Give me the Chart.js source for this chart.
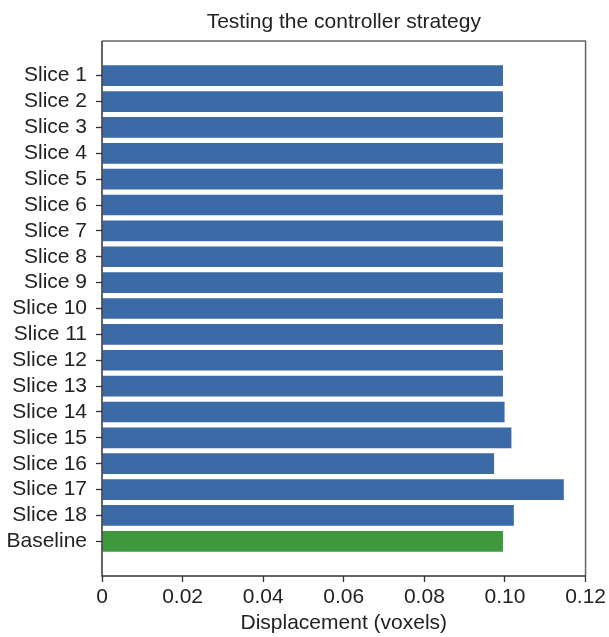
<!DOCTYPE html>
<html>
<head>
<meta charset="utf-8">
<script src="https://cdn.jsdelivr.net/npm/chart.js@4/dist/chart.umd.min.js"></script>
<style>
  html, body { margin: 0; padding: 0; background: #fff; }
  #wrap { width: 609px; height: 637px; }
</style>
</head>
<body>
<div id="wrap"><canvas id="c" width="609" height="637"></canvas></div>
<script>
// Per-slice displacement, plus the baseline run for comparison
const categories = ['Slice 1', 'Slice 2', 'Slice 3', 'Slice 4', 'Slice 5', 'Slice 6',
  'Slice 7', 'Slice 8', 'Slice 9', 'Slice 10', 'Slice 11', 'Slice 12', 'Slice 13',
  'Slice 14', 'Slice 15', 'Slice 16', 'Slice 17', 'Slice 18', 'Baseline'];
const displacement = [0.0995, 0.0995, 0.0995, 0.0995, 0.0995, 0.0995, 0.0995,
  0.0995, 0.0995, 0.0995, 0.0995, 0.0995, 0.0995, 0.0999, 0.1016, 0.0973,
  0.1146, 0.1022, 0.0995];
const xTicks = [0, 0.02, 0.04, 0.06, 0.08, 0.10, 0.12];
const chartTitle = 'Testing the controller strategy';

const SLICE_COLOR = '#3b6aa6';
const BASE_COLOR = '#3f983c';
const FAMILY = '"Liberation Sans", Arial, sans-serif';
const FONT = { family: FAMILY, size: 21 };

// Box around the plotting area, and the title centred over it
const frame = {
  id: 'frame',
  afterDatasetsDraw(chart) {
    const { ctx, chartArea: a } = chart;
    ctx.save();
    ctx.lineWidth = 1.5;
    ctx.strokeStyle = '#666';
    ctx.beginPath();
    ctx.moveTo(a.left, a.top); ctx.lineTo(a.right, a.top); ctx.lineTo(a.right, a.bottom);
    ctx.stroke();
    ctx.strokeStyle = '#333';
    ctx.beginPath();
    ctx.moveTo(a.left, a.top); ctx.lineTo(a.left, a.bottom); ctx.lineTo(a.right, a.bottom);
    ctx.stroke();

    ctx.fillStyle = '#222';
    ctx.font = `${FONT.size}px ${FAMILY}`;
    ctx.textAlign = 'center';
    ctx.textBaseline = 'middle';
    ctx.fillText(chartTitle, (a.left + a.right) / 2, a.top - 19);
    ctx.restore();
  }
};

new Chart(document.getElementById('c'), {
  type: 'bar',
  data: {
    datasets: [{
      data: categories.map((c, i) => ({ x: displacement[i], y: i })),
      backgroundColor: categories.map(c => c === 'Baseline' ? BASE_COLOR : SLICE_COLOR),
      borderWidth: 0,
      categoryPercentage: 1,
      barPercentage: 0.8
    }]
  },
  options: {
    indexAxis: 'y',
    responsive: false,
    animation: false,
    layout: { padding: { left: 0, right: 21, top: 41, bottom: 0 } },
    plugins: {
      legend: { display: false },
      tooltip: { enabled: false },
      title: { display: false }
    },
    scales: {
      x: {
        type: 'linear',
        min: 0,
        max: 0.12,
        afterBuildTicks: axis => { axis.ticks = xTicks.map(v => ({ value: v })); },
        afterFit: s => { s.height = 61; },
        border: { display: false },
        grid: { drawOnChartArea: false, drawTicks: true, tickLength: 6, tickColor: '#333', tickWidth: 1.3 },
        ticks: {
          color: '#222',
          font: FONT,
          padding: 3,
          maxRotation: 0,
          callback: v => v === 0 ? '0' : v.toFixed(2)
        },
        title: {
          display: true,
          text: 'Displacement (voxels)',
          color: '#222',
          font: { ...FONT, lineHeight: 1 },
          padding: { top: 0, bottom: 3 }
        }
      },
      y: {
        type: 'linear',
        reverse: true,
        offset: false,
        min: -1.34,
        max: categories.length - 1 + 1.34,
        afterBuildTicks: axis => { axis.ticks = categories.map((c, i) => ({ value: i })); },
        afterFit: s => { s.width = 102; },
        border: { display: false },
        grid: { offset: false, drawOnChartArea: false, drawTicks: true, tickLength: 6, tickColor: '#333', tickWidth: 1.3 },
        ticks: {
          color: '#222',
          font: FONT,
          padding: 9,
          autoSkip: false,
          callback: v => categories[v] ?? ''
        }
      }
    }
  },
  plugins: [frame]
});
</script>
</body>
</html>
